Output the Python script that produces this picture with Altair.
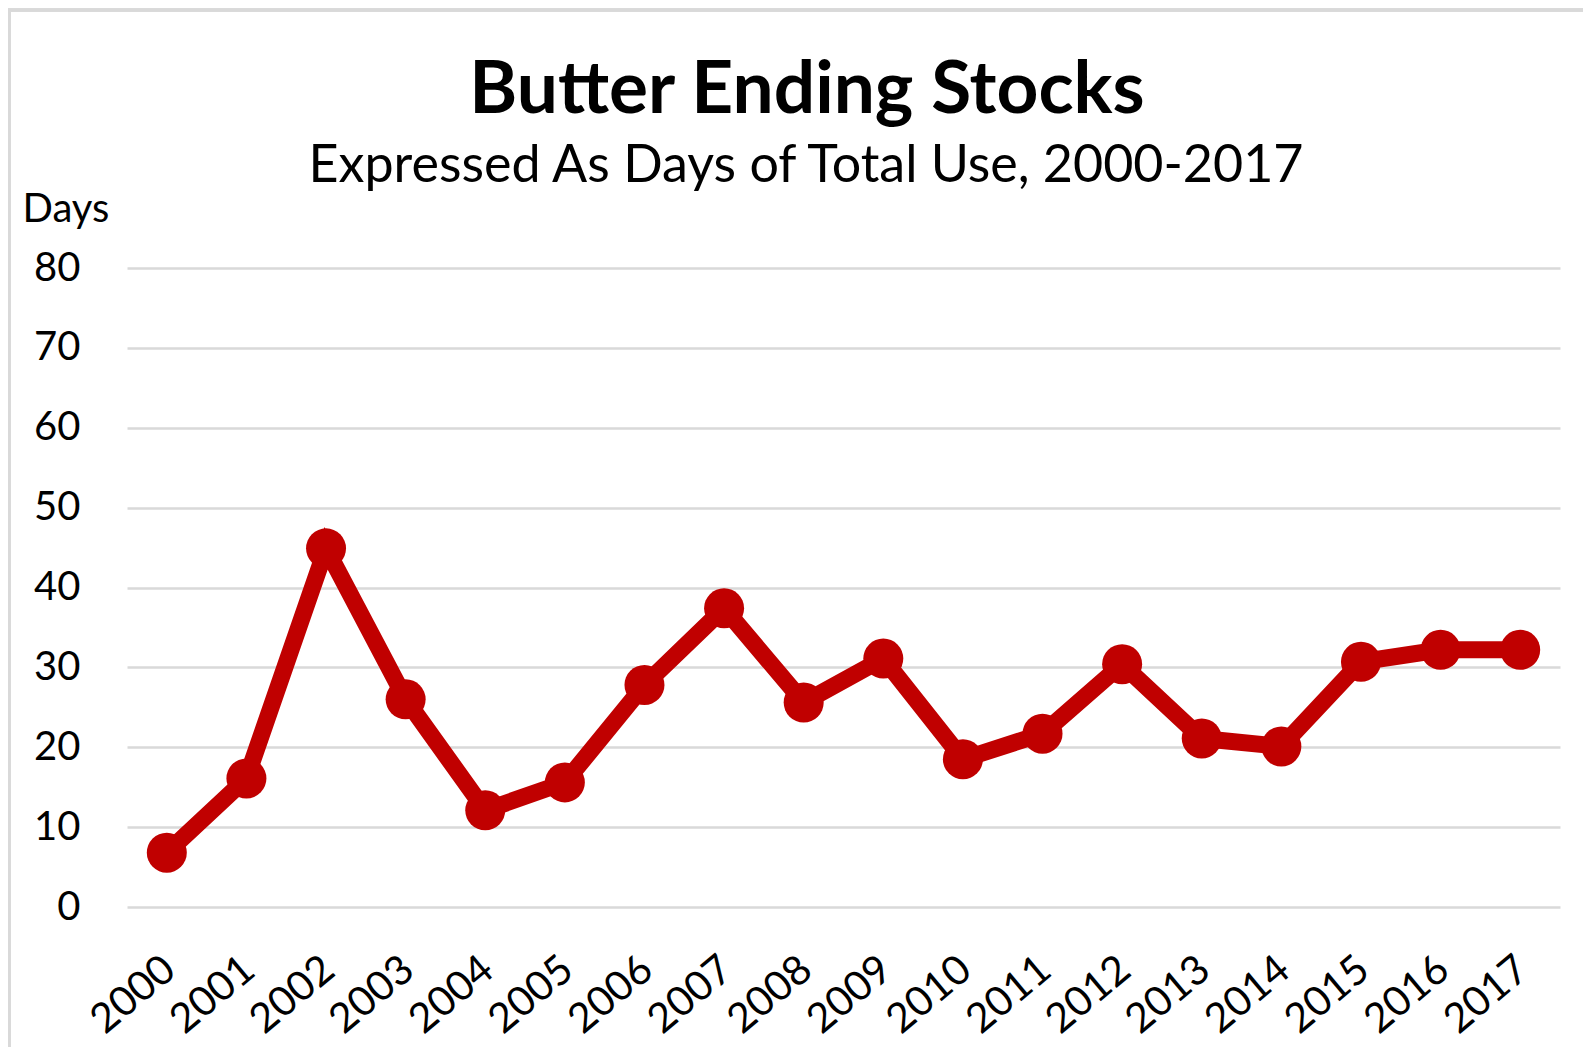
import altair as alt
import pandas as pd

years = [str(y) for y in range(2000, 2018)]
days = [6.8, 16.1, 44.9, 26.0, 12.1, 15.6, 27.8, 37.4, 25.6, 31.1,
        18.5, 21.7, 30.4, 21.1, 20.1, 30.7, 32.2, 32.2]
title_text = ["Butter Ending Stocks"]
subtitle_text = ["Expressed As Days of Total Use, 2000-2017"]

df = pd.DataFrame({"Year": years, "Days": days})

FONT = "Lato"
RED = "#C00000"
GRID = "#d9d9d9"

W, H = 1433, 639
PAD_L, PAD_T = 119, 260

x_enc = alt.X("Year:O", sort=years,
              scale=alt.Scale(type="point", padding=0.5),
              axis=alt.Axis(title=None, labelAngle=-40, labelAlign="right",
                            labelBaseline="top", labelPadding=42, labelOffset=-10,
                            ticks=False, tickSize=0, domain=False, grid=False,
                            labelFontSize=41, labelFont=FONT, labelColor="#000000"))
y_enc = alt.Y("Days:Q",
              scale=alt.Scale(domain=[0, 80], nice=False, zero=True),
              axis=alt.Axis(values=[0, 10, 20, 30, 40, 50, 60, 70, 80],
                            title="Days", titleAngle=0, titleAlign="left",
                            titleBaseline="alphabetic", titleX=-105, titleY=-47,
                            titleFont=FONT, titleFontSize=40, titleFontWeight="normal",
                            titleColor="#000000",
                            labelPadding=47, ticks=False, tickSize=0, domain=False,
                            grid=True, gridColor=GRID, gridWidth=2.5,
                            labelFontSize=40, labelFont=FONT, labelColor="#000000"))

line = alt.Chart(df).mark_line(color=RED, strokeWidth=17).encode(x=x_enc, y=y_enc)
pts = alt.Chart(df).mark_circle(color=RED, opacity=1, size=1600).encode(x=x_enc, y=y_enc)

frame_left = alt.Chart(df).mark_rule(color=GRID, strokeWidth=3, clip=False).encode(
    x=alt.value(-PAD_L + 1), y=alt.value(-PAD_T + 1), y2=alt.value(H + 200))
frame_top = alt.Chart(df).mark_rule(color=GRID, strokeWidth=3, clip=False).encode(
    x=alt.value(-PAD_L), x2=alt.value(W + 60), y=alt.value(-PAD_T + 2))

title_mark = alt.Chart(pd.DataFrame({"t": title_text})).mark_text(
    font=FONT, fontSize=73, fontWeight="bold", color="#000000",
    align="center", baseline="alphabetic", clip=False
).encode(text="t:N", x=alt.value(680), y=alt.value(-155))

subtitle_mark = alt.Chart(pd.DataFrame({"t": subtitle_text})).mark_text(
    font=FONT, fontSize=52, color="#000000",
    align="center", baseline="alphabetic", clip=False
).encode(text="t:N", x=alt.value(679), y=alt.value(-86))

chart = alt.layer(frame_left, frame_top, line, pts, title_mark, subtitle_mark).properties(
    width=W, height=H,
    autosize=alt.AutoSizeParams(type="none"),
    padding={"left": PAD_L, "top": PAD_T, "right": 23, "bottom": 140},
).configure_view(stroke=None)

chart.save("out.html", embed_options={"renderer": "svg", "actions": False})
